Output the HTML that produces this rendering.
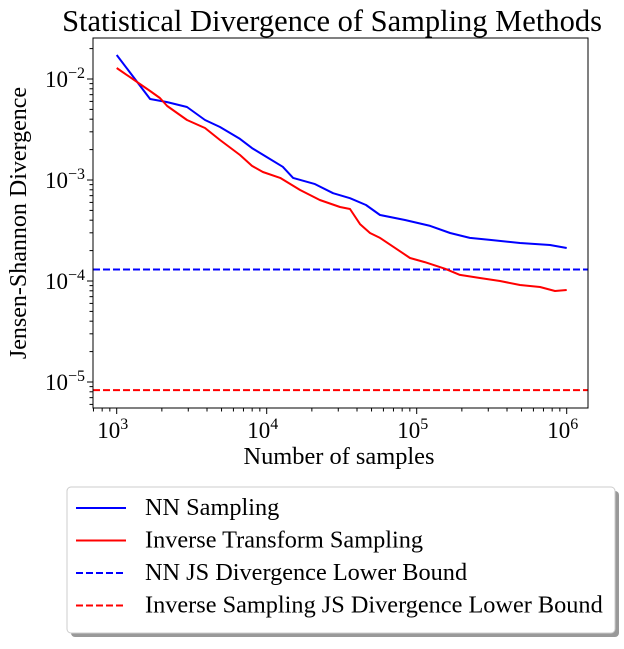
<!DOCTYPE html>
<html><head><meta charset="utf-8"><style>
body{margin:0;background:#fff}
svg{font-family:"Liberation Serif","DejaVu Serif",serif}
</style></head><body>
<svg id="c" width="624" height="644" xmlns="http://www.w3.org/2000/svg"></svg>
<script>
const nnN=[1000,1670,2170,2940,3880,4880,6640,7980,9740,12800,15000,21000,27700,35900,45900,56900,83600,123000,167000,226000,308000,488000,774000,1000000];
const nnV=[0.0173,0.00634,0.00591,0.00528,0.00393,0.00335,0.00255,0.00207,0.00173,0.00135,0.00105,0.00091,0.00074,0.00066,0.000565,0.00045,0.000402,0.000351,0.000299,0.000267,0.000255,0.000238,0.000227,0.000212];
const invN=[1000,1670,1940,2170,2940,3880,4880,6640,7980,9440,12300,16700,22600,30800,35900,41900,48800,56900,75000,90200,113000,155000,194000,264000,359000,488000,664000,836000,1000000];
const invV=[0.01285,0.0076,0.00649,0.0054,0.00393,0.00327,0.00249,0.00177,0.00138,0.0012,0.00105,0.000796,0.000634,0.00054,0.000516,0.000366,0.000299,0.000267,0.000203,0.000169,0.000154,0.000132,0.000115,0.000107,0.0001,0.0000912,0.0000872,0.0000797,0.0000815];
const nnBound=[0.00013];
const invBound=[0.0000083];
const xTicks=[3,4,5,6];
const yTicks=[-5,-4,-3,-2];
const legendLabels=["NN Sampling","Inverse Transform Sampling","NN JS Divergence Lower Bound","Inverse Sampling JS Divergence Lower Bound"];

const NS="http://www.w3.org/2000/svg";
const svg=document.getElementById('c');
const L=93,R=588,T=38,B=408;
const sx=v=>116.7+(Math.log10(v)-3)*150;
const sy=v=>79-(Math.log10(v)+2)*101;
function el(t,a,p){const e=document.createElementNS(NS,t);for(const k in a)e.setAttribute(k,a[k]);(p||svg).appendChild(e);return e;}

let t=el('text',{x:332,y:31,'text-anchor':'middle','font-size':30.5});t.textContent="Statistical Divergence of Sampling Methods";



[[nnBound[0],'#0000ff','nn-bound-line'],[invBound[0],'#ff0000','inverse-bound-line']].forEach(([v,c,n])=>{
  const l=el('line',{x1:L,x2:R,y1:sy(v),y2:sy(v),stroke:c,'stroke-width':2,'stroke-dasharray':'7,3'});
  
  
});
function series(N,V,c,n){
  const d=N.map((x,i)=>(i?'L':'M')+sx(x).toFixed(1)+','+sy(V[i]).toFixed(1)).join('');
  const p=el('path',{d:d,fill:'none',stroke:c,'stroke-width':2,'stroke-linejoin':'round'});
  
  
}
series(nnN,nnV,'#0000ff','nn-sampling-line');
series(invN,invV,'#ff0000','inverse-transform-line');

const fr=el('rect',{x:L,y:T,width:R-L,height:B-T,fill:'none',stroke:'#000','stroke-width':1});



for(let e=2;e<=6;e++){for(let m=1;m<10;m++){const v=m*Math.pow(10,e);const x=sx(v);if(x<L||x>R)continue;
  el('line',{x1:x,x2:x,y1:B,y2:B+(m==1?6:3.5),stroke:'#000','stroke-width':1});}}
xTicks.forEach(e=>{const g=el('text',{x:sx(Math.pow(10,e))-4,y:B+30,'text-anchor':'middle','font-size':23});
  g.innerHTML='10<tspan font-size="16" dy="-9">'+e+'</tspan>';
  
  });
for(let e=-6;e<=-1;e++){for(let m=1;m<10;m++){const v=m*Math.pow(10,e);const y=sy(v);if(y<T||y>B)continue;
  el('line',{x1:L,x2:L-(m==1?6:3.5),y1:y,y2:y,stroke:'#000','stroke-width':1});}}
yTicks.forEach(e=>{const g=el('text',{x:L-8,y:sy(Math.pow(10,e))+8,'text-anchor':'end','font-size':23});
  g.innerHTML='10<tspan font-size="16" dy="-9">−'+(-e)+'</tspan>';
  
  });

let xl=el('text',{x:339,y:464,'text-anchor':'middle','font-size':24.4});xl.textContent="Number of samples";


let yl=el('text',{x:0,y:0,'text-anchor':'middle','font-size':24,transform:'translate(26,223) rotate(-90)'});yl.textContent="Jensen-Shannon Divergence";



const lg=el('g',{});


el('rect',{x:71,y:491,width:548,height:146,rx:4,fill:'#999'},lg);
el('rect',{x:67,y:487,width:548,height:146,rx:4,fill:'#fff',stroke:'#ccc','stroke-width':1},lg);
const cols=['#0000ff','#ff0000','#0000ff','#ff0000'];
legendLabels.forEach((s,i)=>{
  const y=508+i*32.5;
  const ln=el('line',{x1:76,x2:126,y1:y,y2:y,stroke:cols[i],'stroke-width':2,'stroke-dasharray':i>1?'7,3':'none'},lg);
  
  
  const tx=el('text',{x:145,y:y+7,'font-size':24.3},lg);tx.textContent=s;
  
  
});
</script>
</body></html>
